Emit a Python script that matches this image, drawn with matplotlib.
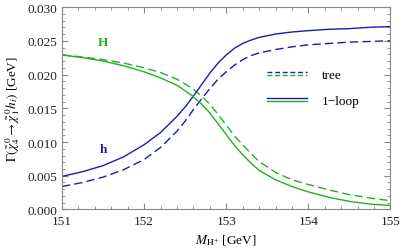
import matplotlib
matplotlib.use("Agg")
import matplotlib.pyplot as plt
from matplotlib.lines import Line2D
from matplotlib.legend_handler import HandlerBase
from matplotlib.ticker import MultipleLocator, FormatStrFormatter

plt.rcParams['font.family'] = ['Liberation Serif', 'DejaVu Serif']
plt.rcParams['mathtext.fontset'] = 'stix'

# ---- data ----
m_hplus = [151.0, 151.25, 151.5, 151.75, 152.0, 152.2, 152.4, 152.5, 152.6, 152.7,
           152.8, 152.9, 153.0, 153.1, 153.2, 153.3, 153.4, 153.6, 153.8, 154.0,
           154.25, 154.5, 154.75, 155.0]

H_loop = [0.0229, 0.0225, 0.0220, 0.0213, 0.0204, 0.0195, 0.0184, 0.0176, 0.0167, 0.0156,
          0.0143, 0.0127, 0.0111, 0.0095, 0.0081, 0.0069, 0.0058, 0.0044, 0.0034, 0.0026,
          0.0018, 0.0012, 0.0008, 0.0006]

H_tree = [0.0229, 0.0226, 0.0222, 0.0217, 0.0210, 0.0203, 0.0193, 0.0186, 0.0178, 0.0168,
          0.0156, 0.0141, 0.0125, 0.0109, 0.0096, 0.0083, 0.0071, 0.0055, 0.0044, 0.0037,
          0.0029, 0.0022, 0.0017, 0.0013]

h_loop = [0.0049, 0.0056, 0.0065, 0.0078, 0.0096, 0.0114, 0.0138, 0.0152, 0.0168, 0.0185,
          0.0202, 0.0217, 0.0229, 0.0239, 0.0246, 0.0251, 0.0255, 0.0260, 0.0263, 0.0265,
          0.0267, 0.0268, 0.0270, 0.0271]

h_tree = [0.0034, 0.0040, 0.0048, 0.0059, 0.0074, 0.0092, 0.0116, 0.0131, 0.0148, 0.0164,
          0.0179, 0.0193, 0.0204, 0.0214, 0.0222, 0.0228, 0.0232, 0.0237, 0.0241, 0.0244,
          0.0246, 0.0248, 0.0249, 0.0250]

legend_labels = ['tree', '1\u2212loop']
curve_names = ['H', 'h']

BLUE = '#1c1caa'
GREEN = '#22b022'


class PairHandler(HandlerBase):
    def create_artists(self, legend, orig_handle, xdescent, ydescent,
                       width, height, fontsize, trans):
        yc = height / 2.0 - ydescent
        arts = []
        for line, dy in zip(orig_handle, (1.1, -1.1)):
            ls = line.get_linestyle()
            l = Line2D([-xdescent, -xdescent + width], [yc + dy, yc + dy],
                       color=line.get_color(), lw=1.0,
                       linestyle=(0, (3.5, 2)) if ls == '--' else '-',
                       transform=trans)
            arts.append(l)
        return arts


fig = plt.figure(figsize=(4.01, 2.51), dpi=100)
ax = fig.add_axes([0.1546, 0.1614, 0.8192, 0.8066])

lw = 1.0
l_h_tree, = ax.plot(m_hplus, h_tree, color=BLUE, lw=lw, linestyle='--', dashes=(6, 3))
l_H_tree, = ax.plot(m_hplus, H_tree, color=GREEN, lw=lw, linestyle='--', dashes=(6, 3))
l_h_loop, = ax.plot(m_hplus, h_loop, color=BLUE, lw=lw)
l_H_loop, = ax.plot(m_hplus, H_loop, color=GREEN, lw=lw)

ax.set_xlim(151, 155)
ax.set_ylim(0, 0.030)
ax.xaxis.set_major_locator(MultipleLocator(1))
ax.xaxis.set_minor_locator(MultipleLocator(0.2))
ax.yaxis.set_major_locator(MultipleLocator(0.005))
ax.yaxis.set_minor_locator(MultipleLocator(0.001))
ax.yaxis.set_major_formatter(FormatStrFormatter('%.3f'))

for sp in ax.spines.values():
    sp.set_color('#888888')
    sp.set_linewidth(0.8)
ax.tick_params(which='both', direction='in', top=True, right=True,
               color='#888888', labelsize=9.5, labelcolor='#222222')
ax.tick_params(which='major', length=4, width=0.8)
ax.tick_params(which='minor', length=2, width=0.6)
ax.tick_params(axis='x', pad=4)

ax.set_xlabel(r'$M_{\mathrm{H}^{+}}$ [GeV]', fontsize=9.5, labelpad=4)
ax.set_ylabel(r'$\Gamma(\tilde{\chi}^{\,0}_{4}\rightarrow\tilde{\chi}^{\,0}_{1}h_{i})$ [GeV]',
              fontsize=9.5, labelpad=4)

ax.text(151.5, 0.0248, curve_names[0], color=GREEN, fontsize=9.5, fontweight='bold',
        ha='center', va='center')
ax.text(151.5, 0.0090, curve_names[1], color=BLUE, fontsize=9.5, fontweight='bold',
        ha='center', va='center')

ax.legend([(l_h_tree, l_H_tree), (l_h_loop, l_H_loop)], legend_labels,
          handler_map={tuple: PairHandler()}, frameon=False, fontsize=9.5,
          loc='upper left', bbox_to_anchor=(0.624, 0.694),
          borderpad=0, borderaxespad=0, handlelength=3.0, handletextpad=1.15,
          labelspacing=1.0)

fig.savefig('out.png', dpi=100)
